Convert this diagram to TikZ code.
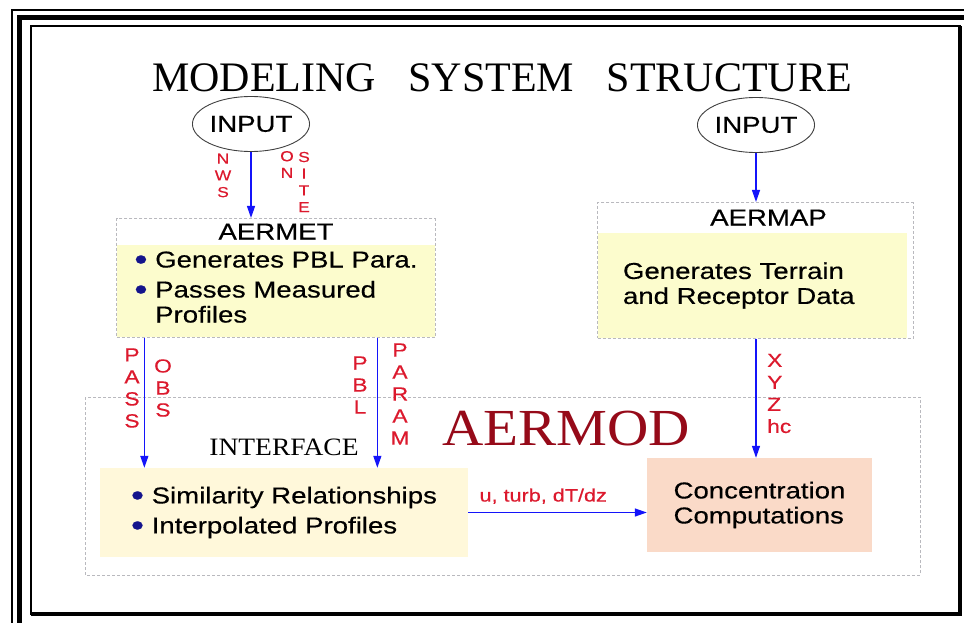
\documentclass[tikz,border=0pt]{standalone}
\usepackage{fontspec}
\usepackage{graphicx}
\setmainfont{Liberation Serif}
\newfontfamily\widesans[FakeStretch=1.2, FakeBold=0.4]{Liberation Sans}
\newfontfamily\wideserif[FakeStretch=1.1]{Liberation Serif}
\usetikzlibrary{shapes.geometric, arrows.meta, positioning, calc, fit}
\definecolor{myblue}{RGB}{20,20,250}
\definecolor{myred}{RGB}{220,25,45}
\definecolor{mymaroon}{RGB}{150,10,25}
\definecolor{mynavy}{RGB}{20,20,140}
\definecolor{myyellow}{RGB}{252,252,205}
\definecolor{mycream}{RGB}{255,248,218}
\definecolor{mysalmon}{RGB}{250,218,200}
\definecolor{mygray}{RGB}{185,185,190}
\tikzset{
  innode/.style={ellipse, draw=black!75, line width=0.9pt,
    minimum width=108pt, minimum height=55pt, inner sep=0pt,
    font=\widesans\fontsize{23}{26}\selectfont},
  bodybox/.style={rectangle, fill=myyellow, align=left, inner ysep=0pt,
    font=\widesans\fontsize{23}{25}\selectfont},
  headtext/.style={inner sep=0pt, font=\widesans\fontsize{23}{26}\selectfont},
  dashframe/.style={draw=mygray, dash pattern=on 3pt off 2pt,
    line width=0.9pt, inner sep=0pt},
  arrow/.style={-{Triangle[length=12pt,width=8pt]}, line width=1.3pt, color=myblue},
  redtag/.style={text=myred, align=center, inner sep=0pt,
    font=\widesans\fontsize{19}{22}\selectfont},
  smalltag/.style={redtag, font=\widesans\fontsize{14.5}{16.7}\selectfont}
}
\newcommand{\bul}{\textcolor{mynavy}{\raisebox{-0.1em}{\scalebox{1.35}{•}}}}

\begin{document}
\begin{tikzpicture}[x=1pt, y=-1pt]
  \useasboundingbox (0,0) rectangle (964,623);
  \fill[white] (0,0) rectangle (964,623);
  % frame
  \begin{scope}
    \clip (0,0) rectangle (964,623);
    \draw[line width=2pt] (12,640) |- (980,10);
    \draw[line width=5pt] (19.5,640) |- (980,17.5);
  \end{scope}
  \draw[line width=2pt] (31,26) rectangle (960,614);
  \draw[line width=4pt] (31,614) -| (960,26);

  \node[font=\fontsize{42}{48}\selectfont, inner sep=0pt] (title) at (502,78)
    {MODELING\hspace{22pt} SYSTEM\hspace{22pt} STRUCTURE};

  % inputs
  \node[innode] (inL) at (251,124) {INPUT};
  \node[innode] (inR) at (756,125) {INPUT};

  % AERMET
  \node[bodybox, minimum width=318pt, minimum height=92pt] (metbody) at (276,291)
    {\bul\ Generates PBL Para.\\[5pt]\bul\ Passes Measured\\\phantom{\bul\ }Profiles\\[-17pt]};
  \node[headtext, minimum width=318pt, minimum height=26pt, above=0pt of metbody] (mettitle) {AERMET};
  \node[dashframe, fit=(mettitle)(metbody)] (metfrm) {};

  % AERMAP
  \node[bodybox, text width=259pt, inner xsep=25pt, minimum height=105pt] (mapbody) at (752.5,285.5)
    {Generates Terrain\\and Receptor Data};
  \node[headtext, minimum height=30pt, above=0pt of mapbody, xshift=16pt] (maptitle) {AERMAP};
  \coordinate (mapcorner) at ($(mapbody.east |- maptitle.north)+(6,0)$);
  \node[dashframe, fit=(mapbody)(mapcorner)] (mapfrm) {};

  % AERMOD
  \draw[dashframe] (85,397) rectangle (920,575);
  \node[text=mymaroon, inner sep=0pt, font=\wideserif\fontsize{52}{56}\selectfont] (aermod) at (566,429) {AERMOD};
  \node[bodybox, fill=mycream, minimum width=368pt, minimum height=89pt] (intbody) at (284,512.5)
    {\bul\ Similarity Relationships\\[5pt]\bul\ Interpolated Profiles};
  \node[inner sep=0pt, font=\wideserif\fontsize{25}{28}\selectfont, above=12pt of intbody] (inttitle) {INTERFACE};
  \node[rectangle, fill=mysalmon, minimum width=225pt, minimum height=94pt, align=left,
    font=\widesans\fontsize{23}{25}\selectfont] (conc) at (759.5,505) {Concentration\\Computations};

  % connectors
  \coordinate (passtop) at ($(metfrm.south west)+(28,0)$);
  \coordinate (pbltop) at ($(metfrm.south west)+(261,0)$);
  \draw[arrow] (inL.south) -- (inL.south |- metfrm.north);
  \draw[arrow] (inR.south) -- (inR.south |- mapfrm.north);
  \draw[arrow] (passtop) -- (passtop |- intbody.north);
  \draw[arrow] (pbltop) -- (pbltop |- intbody.north);
  \draw[arrow] (inR.south |- mapfrm.south) -- (inR.south |- conc.north);
  \draw[arrow] (intbody.east) -- (intbody.east -| conc.west)
    node[redtag, pos=0.42, above=8pt, font=\widesans\fontsize{18}{22}\selectfont] (flowtag) {u, turb, dT/dz};

  % labels
  \node[smalltag] (nws) at (223,175.5) {N\\W\\S};
  \node[smalltag] (on) at (287,164.5) {O\\N};
  \node[smalltag] (site) at (304,182) {S\\I\\T\\E};
  \node[redtag] (pass) at (132,388) {P\\A\\S\\S};
  \node[redtag] (obs) at (163,388) {O\\B\\S};
  \node[redtag] (pbl) at (360,385) {P\\B\\L};
  \node[redtag] (param) at (400,394) {P\\A\\R\\A\\M};
  \node[redtag, align=left, anchor=west] (xyz) at (767,393.5) {X\\Y\\Z\\hc};
\end{tikzpicture}
\end{document}
